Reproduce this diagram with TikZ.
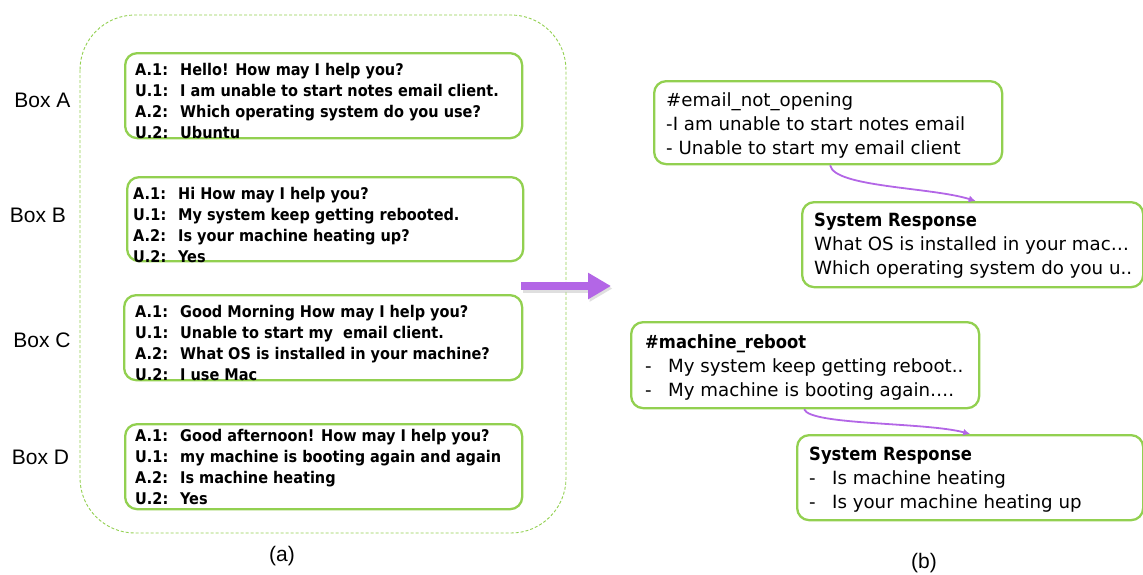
\documentclass[tikz,border=0pt]{standalone}
\usepackage{fontspec}
\usetikzlibrary{arrows.meta}
\newfontfamily\tah[BoldFont={DejaVu Sans Condensed Bold}]{DejaVu Sans Condensed}
\newfontfamily\tahr[BoldFont={DejaVu Sans Condensed Bold}]{DejaVu Sans}
\newfontfamily\arialf{Liberation Sans}
\definecolor{lgreen}{RGB}{146,208,80}
\definecolor{vio}{RGB}{179,102,230}
\newcommand\dlab[1]{\makebox[45pt][l]{#1}}
\newcommand\ddash{\makebox[23pt][l]{-}}
\tikzset{
  gbox/.style={draw=lgreen, line width=2.3pt, rounded corners=12pt, anchor=north west, inner sep=0pt},
  ltext/.style={anchor=base west, align=left, inner sep=0pt, font={\tah\bfseries\fontsize{16.1}{20.9}\selectfont}},
  rtext/.style={anchor=base west, align=left, inner sep=0pt, font={\tahr\fontsize{18.2}{24}\selectfont}},
  blabel/.style={font={\arialf\fontsize{21}{24}\selectfont}, inner sep=0pt},
  conn/.style={draw=vio, line width=1.8pt, -{Latex[length=7pt,width=7pt]}},
}
\begin{document}
\begin{tikzpicture}[x=1pt,y=-1pt]
\useasboundingbox (0,0) rectangle (1143,574);
% outer dashed container
\draw[lgreen, line width=0.9pt, dash pattern=on 3pt off 2pt, rounded corners=55pt] (80,15) rectangle (566,533);

% left boxes
\node[gbox, minimum width=397pt, minimum height=85pt] (boxA) at (124,52) {};
\node[gbox, minimum width=396pt, minimum height=84pt] (boxB) at (126,176) {};
\node[gbox, minimum width=398pt, minimum height=85pt] (boxC) at (123,294) {};
\node[gbox, minimum width=397pt, minimum height=85pt] (boxD) at (124,423) {};

% (anchor = baseline of the last line)
\node[ltext] (tA) at (135,138) {\dlab{A.1:}Hello! How may I help you?\\\dlab{U.1:}I am unable to start notes email client.\\\dlab{A.2:}Which operating system do you use?\\\dlab{U.2:}Ubuntu};
\node[ltext] (tB) at (133,262) {\dlab{A.1:}Hi How may I help you?\\\dlab{U.1:}My system keep getting rebooted.\\\dlab{A.2:}Is your machine heating up?\\\dlab{U.2:}Yes};
\node[ltext] (tC) at (135,380) {\dlab{A.1:}Good Morning How may I help you?\\\dlab{U.1:}Unable to start my\ \ email client.\\\dlab{A.2:}What OS is installed in your machine?\\\dlab{U.2:}I use Mac};
\node[ltext] (tD) at (135,504) {\dlab{A.1:}Good afternoon! How may I help you?\\\dlab{U.1:}my machine is booting again and again\\\dlab{A.2:}Is machine heating\\\dlab{U.2:}Yes};

% labels
\node[blabel] (lA) at (42.5,100) {Box A};
\node[blabel] (lB) at (38,215) {Box B};
\node[blabel] (lC) at (42,340) {Box C};
\node[blabel] (lD) at (40.5,457) {Box D};
\node[blabel] (capa) at (282,556) {(a)};
\node[blabel] (capb) at (924,563) {(b)};

% big arrow
\coordinate (arrS) at (521,286);
\coordinate (arrE) at (611,286);
\draw[black!25, line width=8pt, -{Triangle[length=23pt,width=25pt]}, opacity=0.5] ([shift={(1.5,2.5)}]arrS) -- ([shift={(1.5,2.5)}]arrE);
\draw[vio, line width=8pt, -{Triangle[length=23pt,width=25pt]}] (arrS) -- (arrE);

% right boxes
\node[gbox, minimum width=348pt, minimum height=83pt] (e1) at (653,80) {};
\node[gbox, minimum width=341pt, minimum height=85pt] (sr1) at (801,201) {};
\node[gbox, minimum width=348pt, minimum height=86pt] (e2) at (630,321) {};
\node[gbox, minimum width=346pt, minimum height=85pt] (sr2) at (796,434) {};

\node[rtext] (te1) at (666,154) {\#email\_not\_opening\\-I am unable to start notes email\\- Unable to start my email client};
\node[rtext] (tsr1) at (814,274) {\textbf{System Response}\\What OS is installed in your mac\ldots\\Which operating system do you u..};
\node[rtext] (te2) at (645,396) {\textbf{\#machine\_reboot}\\\ddash My system keep getting reboot..\\\ddash My machine is booting again\ldots.};
\node[rtext] (tsr2) at (809,508) {\textbf{System Response}\\\ddash Is machine heating\\\ddash Is your machine heating up};

% connectors
\draw[conn] ([xshift=2pt]e1.south) .. controls +(4,22) and +(-45,-14) .. ([xshift=3pt]sr1.north);
\draw[conn] ([xshift=-1pt]e2.south) .. controls +(6,16) and +(-45,-12) .. ([xshift=0pt]sr2.north);
\end{tikzpicture}
\end{document}
